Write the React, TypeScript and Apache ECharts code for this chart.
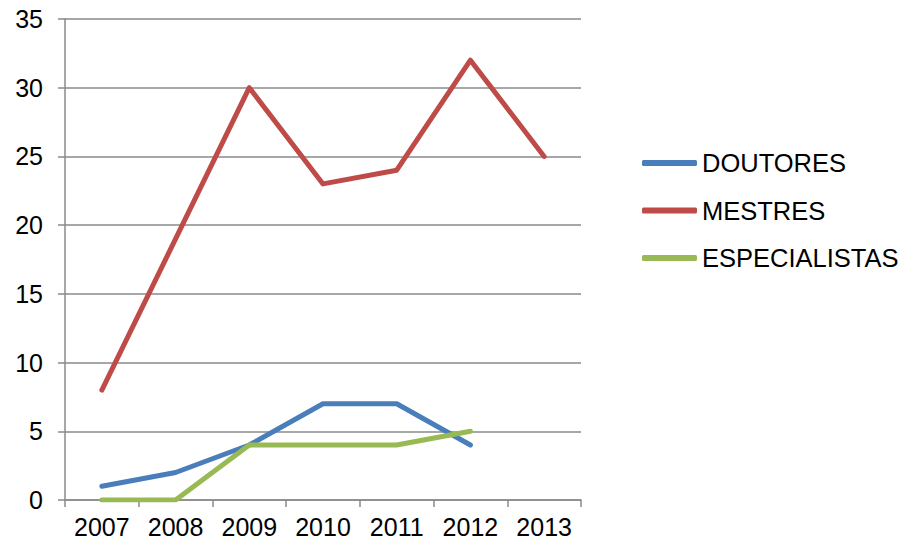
import React, { useEffect, useRef } from "react";
import * as echarts from "echarts";

const years = ["2007", "2008", "2009", "2010", "2011", "2012", "2013"];
const doutores = [1, 2, 4, 7, 7, 4, null];
const mestres = [8, 19, 30, 23, 24, 32, 25];
const especialistas = [0, 0, 4, 4, 4, 5, null];
const seriesNames = ["DOUTORES", "MESTRES", "ESPECIALISTAS"];
const colors = ["#4A7EBB", "#BE4B48", "#98B954"];

export default function App() {
  const ref = useRef<HTMLDivElement>(null);
  useEffect(() => {
    if (!ref.current) return;
    const chart = echarts.init(ref.current, undefined, { renderer: "svg" });
    const gridColor = "#8a8a8a";
    const font = "Liberation Sans, Arial, sans-serif";
    const dataSets = [doutores, mestres, especialistas];
    chart.setOption({
      animation: false,
      color: colors,
      grid: { left: 65, right: 329, top: 19, bottom: 47 },
      legend: {
        orient: "vertical",
        left: 637,
        top: 145,
        itemWidth: 55,
        itemHeight: 6,
        itemGap: 21.5,
        icon: "roundRect",
        data: seriesNames,
        textStyle: { fontSize: 25.5, lineHeight: 25, color: "#000", fontFamily: font },
      },
      xAxis: {
        type: "category",
        data: years,
        boundaryGap: true,
        axisLine: { show: true, lineStyle: { color: gridColor, width: 1.5 } },
        axisTick: { show: true, length: 7, alignWithLabel: false, lineStyle: { color: gridColor, width: 1.5 } },
        axisLabel: { interval: 0, fontSize: 25, color: "#000", fontFamily: font, margin: 14 },
        splitLine: { show: false },
      },
      yAxis: {
        type: "value",
        min: 0,
        max: 35,
        interval: 5,
        axisLine: { show: true, lineStyle: { color: gridColor, width: 1.5 } },
        axisTick: { show: true, length: 7, lineStyle: { color: gridColor, width: 1.5 } },
        axisLabel: { fontSize: 25, color: "#000", fontFamily: font, margin: 22 },
        splitLine: { show: true, lineStyle: { color: gridColor, width: 1.5 } },
      },
      series: seriesNames.map((name, i) => ({
        name,
        type: "line",
        data: dataSets[i],
        symbol: "none",
        smooth: false,
        lineStyle: { width: 5, color: colors[i], cap: "round", join: "round" },
        itemStyle: { color: colors[i] },
      })),
    });
    return () => chart.dispose();
  }, []);
  return (
    <div
      ref={ref}
      style={{ position: "absolute", left: 0, top: 0, width: 910, height: 547 }}
    />
  );
}
